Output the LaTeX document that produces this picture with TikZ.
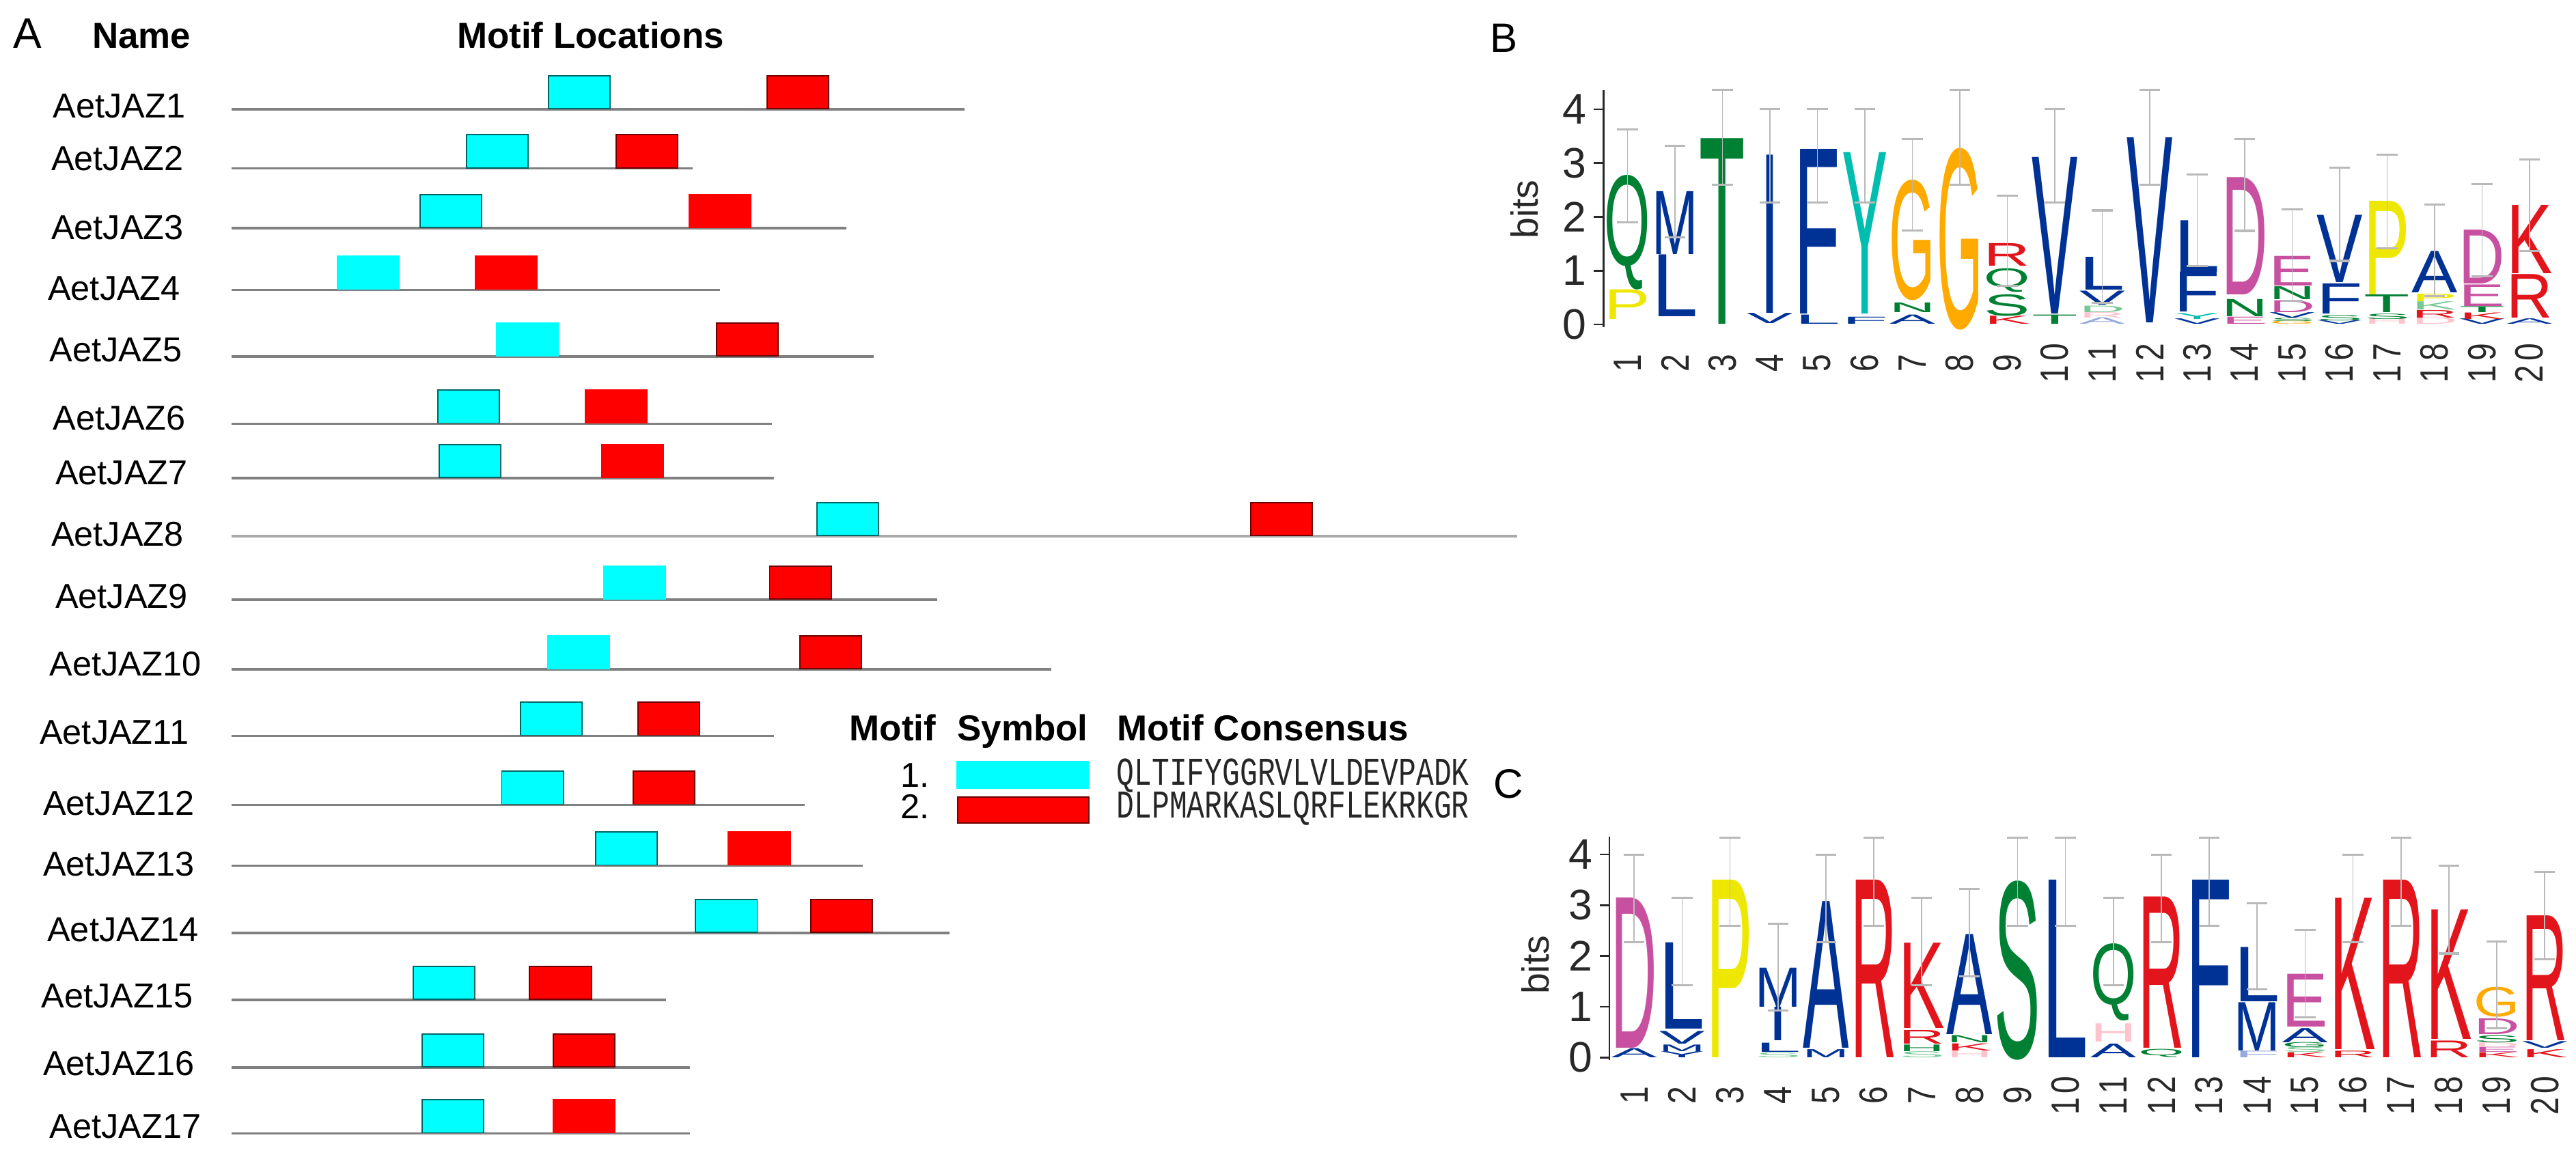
\documentclass[tikz,border=0pt]{standalone}
\usepackage{fontspec}
\usepackage{graphicx}
\setmainfont{Liberation Sans}
\newfontfamily\seqfont{Liberation Mono}

\definecolor{lgGreen}{RGB}{0,128,50}
\definecolor{lgBlue}{RGB}{0,50,150}
\definecolor{lgYellow}{RGB}{238,232,0}
\definecolor{lgOrange}{RGB}{255,170,0}
\definecolor{lgRed}{RGB}{226,20,28}
\definecolor{lgPink}{RGB}{200,80,160}
\definecolor{lgTeal}{RGB}{0,190,175}
\definecolor{lgPale}{RGB}{255,195,205}
\definecolor{lgPaleBlue}{RGB}{150,170,220}
\definecolor{lgPaleGreen}{RGB}{120,200,150}
\definecolor{motifCyan}{RGB}{0,255,255}
\definecolor{motifRed}{RGB}{255,0,0}
\definecolor{cyanEdge}{RGB}{0,100,100}
\definecolor{redEdge}{RGB}{110,0,0}
\definecolor{lineGray}{RGB}{128,128,128}
\definecolor{lineLight}{RGB}{170,170,170}
\definecolor{barGray}{RGB}{185,185,185}
\definecolor{axisGray}{RGB}{40,40,40}

\newcount\lgcount
\def\lgW{28pt}
\newcommand\setlogo[7]{\def\lgN{#1}\def\lgXo{#2}\def\lgDX{#3}\def\lgZ{#4}\def\lgB{#5}\def\lgAx{#6}\def\lgNy{#7}}
\newcommand\lgLet[5]{%
  \pgfmathsetmacro\lgx{\lgXo+(#1-1)*\lgDX}%
  \pgfmathsetmacro\lgy{\lgZ-(#2)*\lgB}%
  \pgfmathsetmacro\lgh{max((#3-#2)*\lgB,0.4)}%
  \global\advance\lgcount by 1\relax
  \node[lgletter,text=#5] (\lgN L\the\lgcount) at (\lgx,\lgy) {\resizebox*{\lgW}{\lgh pt}{#4}};%
}
\newcommand\lgLetI[4]{{\def\lgW{12pt}\lgLet{#1}{#2}{#3}{I}{#4}}}
\newcommand\lgBar[3]{%
  \pgfmathsetmacro\lgx{\lgXo+(#1-1)*\lgDX}%
  \pgfmathsetmacro\lgyl{\lgZ-(#2)*\lgB}%
  \pgfmathsetmacro\lgyh{\lgZ-(#3)*\lgB}%
  \draw[errbar] (\lgx,\lgyl) -- (\lgx,\lgyh);
  \draw[errcap] ({\lgx-6.3},\lgyl) -- ({\lgx+6.3},\lgyl);
  \draw[errcap] ({\lgx-6.3},\lgyh) -- ({\lgx+6.3},\lgyh);
}
\newcommand\posnum[1]{\ifnum#1<10 #1\else\ifnum#1<20 1\kern3pt\the\numexpr#1-10\relax\else 2\kern3pt 0\fi\fi}
\newcommand\lgFrame[2]{% bits x, bits y
  \coordinate (\lgN axb) at (\lgAx,{\lgZ+1.5});
  \coordinate (\lgN axt) at (\lgAx,{\lgZ-4.35*\lgB});
  \draw[axisline] (\lgN axb) -- (\lgN axt);
  \foreach \t in {0,...,4}{
    \coordinate (\lgN tk\t) at (\lgAx,{\lgZ-\t*\lgB});
    \draw[axisline] (\lgN tk\t) -- ++(-6,0);
    \node[ticklbl] (\lgN tl\t) at ({\lgAx-10},{\lgZ-\t*\lgB}) {\t};
  }
  \node[bitslbl] (\lgN bits) at (#1,#2) {bits};
  \foreach \i in {1,...,20}{
    \node[poslbl] (\lgN pos\i) at ({\lgXo+(\i-1)*\lgDX},\lgNy) {\scalebox{0.8}[1]{\posnum{\i}}};
  }
}

\begin{document}
\begin{tikzpicture}[x=1pt,y=-1pt,
  lbl/.style={anchor=west, inner sep=0pt, font=\fontsize{21}{25}\selectfont},
  head/.style={anchor=base west, inner sep=0pt, font=\fontsize{22}{26}\selectfont\bfseries},
  panel/.style={anchor=base west, inner sep=0pt, font=\fontsize{25}{30}\selectfont},
  seqline/.style={line width=1.6pt},
  mbox/.style={minimum width=37.5pt, minimum height=20pt, inner sep=0pt, anchor=south west, line width=0.8pt},
  lgletter/.style={anchor=south, inner sep=0pt, outer sep=0pt, font=\fontsize{40}{40}\selectfont},
  errbar/.style={draw=barGray, line width=0.7pt},
  errcap/.style={draw=barGray, line width=1.3pt},
  axisline/.style={draw=axisGray, line width=1.1pt},
  ticklbl/.style={anchor=east, inner sep=0pt, font=\fontsize{26}{30}\selectfont, text=axisGray},
  bitslbl/.style={rotate=90, inner sep=0pt, font=\fontsize{23}{27}\selectfont, text=axisGray},
  poslbl/.style={rotate=90, inner sep=0pt, anchor=center, font=\fontsize{24}{28}\selectfont, text=axisGray},
  seqtxt/.style={anchor=base west, inner sep=0pt, font=\seqfont\fontsize{24}{28}\selectfont, text=black!85},
  numtxt/.style={anchor=base east, inner sep=0pt, font=\fontsize{21}{25}\selectfont}
]
\useasboundingbox (0,0) rectangle (1568,704);

% ---------------- Panel A ----------------
\node[panel, font=\fontsize{26}{30}\selectfont] (pA) at (8,29.5) {A};
\node[head] (hName) at (56,29.5) {Name};
\node[head] (hLoc) at (278,29.5) {Motif Locations};

\foreach \n/\lx/\ly/\ln/\le/\cx/\rx/\ce/\re/\lc in {
1/32/64.5/66.5/587/333.4/466.6/cyanEdge/redEdge/lineGray,
2/31/96.5/102.5/421.5/283.7/374.7/cyanEdge/redEdge/lineGray,
3/31/138.7/139/515/255.4/419.2/cyanEdge/motifRed/lineGray,
4/29/175.7/176.5/438.3/205/288.8/motifCyan/motifRed/lineGray,
5/30/213/217/531.8/302/435.8/motifCyan/redEdge/lineGray,
6/32/254.5/258/470/266/356/cyanEdge/motifRed/lineGray,
7/33.5/288/291/471/267/366/cyanEdge/motifRed/lineGray,
8/31/325/326.4/923.5/497/761/cyanEdge/redEdge/lineLight,
9/33.5/363/365/570.5/367/468/motifCyan/redEdge/lineGray,
10/30/404/407.5/640/333/486.5/motifCyan/redEdge/lineGray,
11/24/446/448/471/316.5/388/cyanEdge/redEdge/lineGray,
12/26/489/490/490/305/385/cyanEdge/redEdge/lineGray,
13/26/526/527/525/362/443/cyanEdge/motifRed/lineGray,
14/28.6/566/568/578/423/493/cyanEdge/redEdge/lineGray,
15/25/606.4/608.7/405.5/251/322/cyanEdge/redEdge/lineGray,
16/26/647.6/650/420/256.4/336.5/cyanEdge/redEdge/lineGray,
17/30/685.7/690/420/256.4/336.5/cyanEdge/motifRed/lineGray}
{
  \node[lbl] (lab\n) at (\lx,\ly) {AetJAZ\n};
  \coordinate (ls\n) at (141,\ln);
  \coordinate (le\n) at (\le,\ln);
  \draw[seqline, draw=\lc] (ls\n) -- (le\n);
  \node[mbox, fill=motifCyan, draw=\ce] (ma\n) at (\cx,\ln) {};
  \node[mbox, fill=motifRed, draw=\re] (mb\n) at (\rx,\ln) {};
}

% legend
\node[head] (hMotif) at (517,451) {Motif};
\node[head] (hSym) at (582.5,451) {Symbol};
\node[head] (hCons) at (680,451) {Motif Consensus};
\node[numtxt] (n1) at (566,479) {1.};
\node[numtxt] (n2) at (566,498.5) {2.};
\node[minimum width=80.5pt, minimum height=17pt, inner sep=0pt, anchor=north west, fill=motifCyan] (sym1) at (582,463) {};
\node[minimum width=80pt, minimum height=16pt, inner sep=0pt, anchor=north west, fill=motifRed, draw=redEdge, line width=0.8pt] (sym2) at (582.4,484.8) {};
\node[seqtxt] (s1) at (679.5,478) {\scalebox{0.745}[1]{QLTIFYGGRVLVLDEVPADK}};
\node[seqtxt] (s2) at (679.5,498) {\scalebox{0.745}[1]{DLPMARKASLQRFLEKRKGR}};

% ---------------- Panel B ----------------
\node[panel] (pB) at (907,32) {B};
\setlogo{B}{990.6}{28.9}{197.5}{32.75}{976}{221}
\lgLet{1}{0.10}{0.65}{P}{lgYellow}
\lgLet{1}{0.65}{2.78}{Q}{lgGreen}
\lgLet{2}{0.15}{1.30}{L}{lgBlue}
\lgLet{2}{1.30}{2.47}{M}{lgBlue}
\lgLet{3}{0}{3.45}{T}{lgGreen}
\lgLet{4}{0.02}{0.21}{V}{lgBlue}
\lgLetI{4}{0.21}{3.15}{lgBlue}
\lgLet{5}{0}{0.17}{L}{lgBlue}
\lgLet{5}{0.20}{3.26}{F}{lgBlue}
\lgLet{6}{0}{0.13}{F}{lgBlue}
\lgLet{6}{0.20}{3.20}{Y}{lgTeal}
\lgLet{7}{0}{0.17}{A}{lgBlue}
\lgLet{7}{0.22}{0.40}{N}{lgGreen}
\lgLet{7}{0.45}{2.69}{G}{lgOrange}
\lgLet{8}{-0.1}{3.28}{G}{lgOrange}
\lgLet{9}{0}{0.15}{K}{lgRed}
\lgLet{9}{0.15}{0.55}{S}{lgGreen}
\lgLet{9}{0.60}{1.04}{Q}{lgGreen}
\lgLet{9}{1.08}{1.50}{R}{lgRed}
\lgLet{10}{0}{0.17}{T}{lgGreen}
\lgLet{10}{0.20}{3.11}{V}{lgBlue}
\lgLet{11}{0}{0.12}{A}{lgPaleBlue}
\lgLet{11}{0.12}{0.22}{R}{lgPale}
\lgLet{11}{0.22}{0.34}{D}{lgPaleGreen}
\lgLet{11}{0.36}{0.62}{V}{lgBlue}
\lgLet{11}{0.64}{1.25}{L}{lgBlue}
\lgLet{12}{0.03}{3.47}{V}{lgBlue}
\lgLet{13}{0}{0.10}{V}{lgBlue}
\lgLet{13}{0.10}{0.21}{Y}{lgTeal}
\lgLet{13}{0.23}{0.97}{F}{lgBlue}
\lgLet{13}{0.97}{1.93}{L}{lgBlue}
\lgLet{14}{0}{0.13}{E}{lgPink}
\lgLet{14}{0.15}{0.47}{N}{lgGreen}
\lgLet{14}{0.55}{2.73}{D}{lgPink}
\lgLet{15}{0}{0.06}{G}{lgOrange}
\lgLet{15}{0.06}{0.12}{S}{lgGreen}
\lgLet{15}{0.12}{0.22}{V}{lgBlue}
\lgLet{15}{0.22}{0.44}{D}{lgPink}
\lgLet{15}{0.46}{0.70}{N}{lgGreen}
\lgLet{15}{0.72}{1.27}{E}{lgPink}
\lgLet{16}{0}{0.07}{V}{lgBlue}
\lgLet{16}{0.07}{0.17}{S}{lgGreen}
\lgLet{16}{0.20}{0.76}{F}{lgBlue}
\lgLet{16}{0.78}{2.03}{V}{lgBlue}
\lgLet{17}{0}{0.10}{H}{lgPale}
\lgLet{17}{0.10}{0.20}{S}{lgGreen}
\lgLet{17}{0.22}{0.55}{T}{lgGreen}
\lgLet{17}{0.55}{2.29}{P}{lgYellow}
\lgLet{18}{0}{0.12}{D}{lgPale}
\lgLet{18}{0.12}{0.26}{R}{lgRed}
\lgLet{18}{0.27}{0.42}{K}{lgPaleGreen}
\lgLet{18}{0.43}{0.57}{P}{lgYellow}
\lgLet{18}{0.59}{1.36}{A}{lgBlue}
\lgLet{19}{0}{0.10}{V}{lgBlue}
\lgLet{19}{0.10}{0.22}{K}{lgRed}
\lgLet{19}{0.22}{0.33}{T}{lgGreen}
\lgLet{19}{0.34}{0.74}{E}{lgPink}
\lgLet{19}{0.76}{1.76}{D}{lgPink}
\lgLet{20}{0}{0.10}{A}{lgBlue}
\lgLet{20}{0.12}{0.93}{R}{lgRed}
\lgLet{20}{0.95}{2.22}{K}{lgRed}
\lgBar{1}{1.90}{3.63}
\lgBar{2}{1.62}{3.32}
\lgBar{3}{2.60}{4.36}
\lgBar{4}{2.27}{4.00}
\lgBar{5}{2.27}{4.00}
\lgBar{6}{2.27}{4.00}
\lgBar{7}{1.75}{3.45}
\lgBar{8}{2.60}{4.36}
\lgBar{9}{0.72}{2.39}
\lgBar{10}{2.27}{4.00}
\lgBar{11}{0.40}{2.12}
\lgBar{12}{2.60}{4.36}
\lgBar{13}{1.09}{2.79}
\lgBar{14}{1.74}{3.45}
\lgBar{15}{0.44}{2.14}
\lgBar{16}{1.18}{2.91}
\lgBar{17}{1.41}{3.15}
\lgBar{18}{0.53}{2.23}
\lgBar{19}{0.89}{2.61}
\lgBar{20}{1.37}{3.07}
\lgFrame{928}{127.5}

% ---------------- Panel C ----------------
\node[panel] (pC) at (909,486) {C};
\setlogo{C}{994.7}{29.17}{643.8}{30.9}{979.6}{667}
\lgLet{1}{0}{0.18}{A}{lgBlue}
\lgLet{1}{0.18}{3.14}{D}{lgPink}
\lgLet{2}{0}{0.12}{Y}{lgBlue}
\lgLet{2}{0.12}{0.25}{M}{lgBlue}
\lgLet{2}{0.27}{0.52}{V}{lgBlue}
\lgLet{2}{0.56}{2.26}{L}{lgBlue}
\lgLet{3}{0}{3.50}{P}{lgYellow}
\lgLet{4}{0}{0.10}{S}{lgPaleGreen}
\lgLet{4}{0.11}{0.29}{L}{lgBlue}
\lgLetI{4}{0.34}{1.00}{lgBlue}
\lgLet{4}{1.00}{1.77}{M}{lgBlue}
\lgLet{5}{0}{0.16}{M}{lgBlue}
\lgLet{5}{0.18}{3.07}{A}{lgBlue}
\lgLet{6}{0}{3.50}{R}{lgRed}
\lgLet{7}{0}{0.12}{S}{lgPaleGreen}
\lgLet{7}{0.12}{0.25}{H}{lgGreen}
\lgLet{7}{0.27}{0.54}{R}{lgRed}
\lgLet{7}{0.58}{2.26}{K}{lgRed}
\lgLet{8}{0}{0.13}{H}{lgPale}
\lgLet{8}{0.13}{0.27}{K}{lgRed}
\lgLet{8}{0.29}{0.43}{N}{lgGreen}
\lgLet{8}{0.45}{2.42}{A}{lgBlue}
\lgLet{9}{-0.05}{3.48}{S}{lgGreen}
\lgLet{10}{0}{3.50}{L}{lgBlue}
\lgLet{11}{0}{0.27}{A}{lgBlue}
\lgLet{11}{0.31}{0.67}{H}{lgPale}
\lgLet{11}{0.72}{2.24}{Q}{lgGreen}
\lgLet{12}{0}{0.16}{Q}{lgGreen}
\lgLet{12}{0.18}{3.16}{R}{lgRed}
\lgLet{13}{0}{3.50}{F}{lgBlue}
\lgLet{14}{0}{0.13}{F}{lgPaleBlue}
\lgLet{14}{0.13}{1.08}{M}{lgBlue}
\lgLet{14}{1.10}{2.17}{L}{lgBlue}
\lgLet{15}{0}{0.10}{K}{lgRed}
\lgLet{15}{0.10}{0.20}{S}{lgPaleGreen}
\lgLet{15}{0.20}{0.30}{G}{lgGreen}
\lgLet{15}{0.30}{0.58}{A}{lgBlue}
\lgLet{15}{0.60}{1.64}{E}{lgPink}
\lgLet{16}{0}{0.13}{R}{lgRed}
\lgLet{16}{0.16}{3.14}{K}{lgRed}
\lgLet{17}{0}{3.50}{R}{lgRed}
\lgLet{18}{0}{0.33}{R}{lgRed}
\lgLet{18}{0.36}{2.91}{K}{lgRed}
\lgLet{19}{0}{0.10}{K}{lgRed}
\lgLet{19}{0.10}{0.20}{E}{lgPink}
\lgLet{19}{0.20}{0.29}{D}{lgPale}
\lgLet{19}{0.29}{0.43}{S}{lgGreen}
\lgLet{19}{0.45}{0.76}{D}{lgPink}
\lgLet{19}{0.80}{1.39}{G}{lgOrange}
\lgLet{20}{0}{0.16}{K}{lgRed}
\lgLet{20}{0.18}{0.31}{V}{lgBlue}
\lgLet{20}{0.34}{2.80}{R}{lgRed}
\lgBar{1}{2.27}{3.99}
\lgBar{2}{1.42}{3.15}
\lgBar{3}{2.60}{4.33}
\lgBar{4}{0.93}{2.63}
\lgBar{5}{2.27}{3.99}
\lgBar{6}{2.60}{4.33}
\lgBar{7}{1.42}{3.15}
\lgBar{8}{1.60}{3.32}
\lgBar{9}{2.60}{4.33}
\lgBar{10}{2.60}{4.33}
\lgBar{11}{1.42}{3.15}
\lgBar{12}{2.27}{3.99}
\lgBar{13}{2.60}{4.33}
\lgBar{14}{1.34}{3.04}
\lgBar{15}{0.79}{2.52}
\lgBar{16}{2.27}{3.99}
\lgBar{17}{2.60}{4.33}
\lgBar{18}{2.05}{3.78}
\lgBar{19}{0.58}{2.28}
\lgBar{20}{1.94}{3.66}
\lgFrame{934.5}{587.5}
\end{tikzpicture}
\end{document}
